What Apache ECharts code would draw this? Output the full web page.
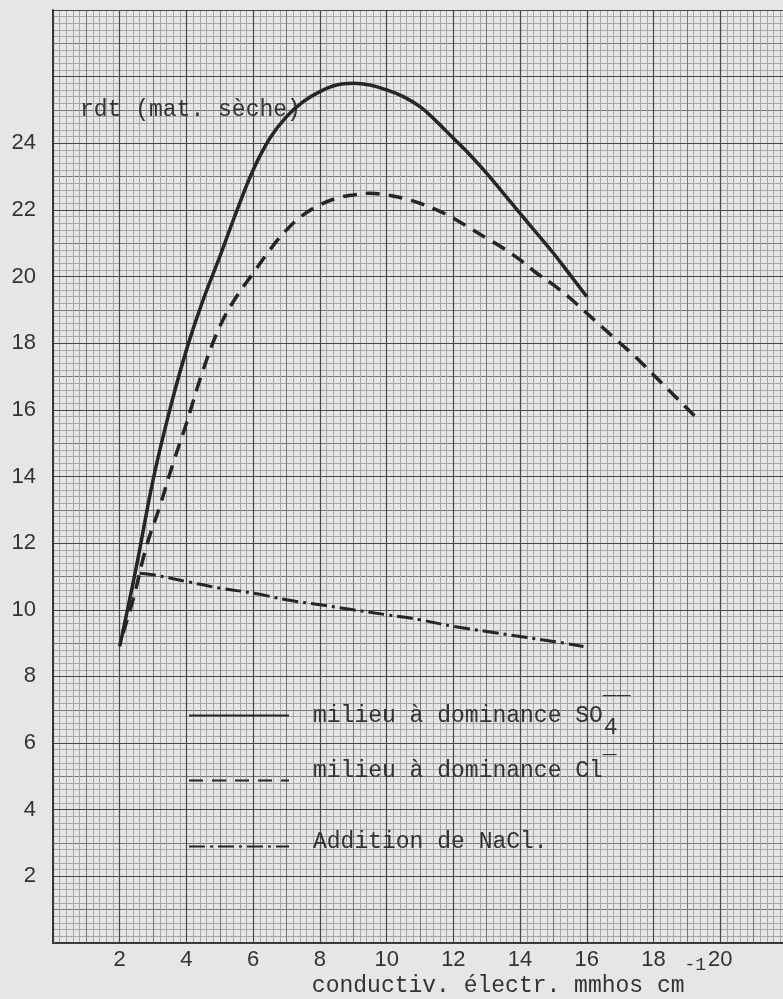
<!DOCTYPE html>
<html>
<head>
<meta charset="utf-8">
<script src="https://cdn.jsdelivr.net/npm/echarts@6/dist/echarts.min.js"></script>
<style>
  html, body { margin: 0; padding: 0; background: #e6e6e6; }
  #chart { width: 783px; height: 999px; }
</style>
</head>
<body>
<div id="chart"></div>
<script>
// ---- data ----
const seriesNames = ['milieu à dominance SO4', 'milieu à dominance Cl', 'Addition de NaCl.'];

const so4X = [2.0, 2.5, 3.0, 3.5, 4.0, 4.5, 5.0, 5.5, 6.0, 6.5, 7.0, 7.5, 8.0, 8.5, 9.0, 9.5, 10.0, 10.5, 11.0, 11.5, 12.0, 12.5, 13.0, 13.5, 14.0, 14.5, 15.0, 15.5, 16.0];
const so4Y = [8.9, 11.3, 13.9, 16.0, 17.8, 19.3, 20.6, 21.95, 23.2, 24.15, 24.8, 25.25, 25.55, 25.75, 25.8, 25.75, 25.6, 25.4, 25.1, 24.65, 24.15, 23.65, 23.1, 22.5, 21.9, 21.3, 20.7, 20.05, 19.4];

const clX = [2.1, 2.4, 2.8, 3.2, 3.6, 4.0, 4.5, 5.0, 5.5, 6.0, 6.5, 7.0, 7.5, 8.0, 8.5, 9.0, 9.5, 10.0, 10.5, 11.0, 11.5, 12.0, 12.5, 13.0, 13.5, 14.0, 14.5, 15.0, 15.5, 16.0, 16.5, 17.0, 17.5, 18.0, 18.5, 19.0, 19.35];
const clY = [9.3, 10.3, 11.9, 13.1, 14.4, 15.6, 17.2, 18.5, 19.4, 20.1, 20.8, 21.4, 21.85, 22.15, 22.35, 22.45, 22.5, 22.45, 22.35, 22.2, 22.0, 21.75, 21.45, 21.15, 20.85, 20.5, 20.1, 19.75, 19.35, 18.9, 18.45, 18.0, 17.55, 17.05, 16.55, 16.05, 15.7];

const naclX = [2.6, 3.0, 4.0, 5.0, 6.0, 7.0, 8.0, 9.0, 10.0, 11.0, 12.0, 13.0, 14.0, 15.0, 15.9];
const naclY = [11.1, 11.05, 10.85, 10.65, 10.5, 10.3, 10.15, 10.0, 9.85, 9.7, 9.5, 9.35, 9.2, 9.05, 8.9];

const xTickLabels = [2, 4, 6, 8, 10, 12, 14, 16, 18, 20];
const yTickLabels = [2, 4, 6, 8, 10, 12, 14, 16, 18, 20, 22, 24];

const xAxisTitle = 'conductiv. électr. mmhos cm';
const xAxisTitleSup = '-1';
const yAxisTitle = 'rdt (mat. sèche)';

// ---- chart ----
const zip = (xs, ys) => xs.map((x, i) => [x, ys[i]]);
const showIf = list => v => list.some(t => Math.abs(t - v) < 1e-6) ? String(v) : '';

const MONO = '"Liberation Mono", "Courier New", monospace';
const SANS = '"Liberation Sans", Arial, sans-serif';
const INK = '#262626';
const TXT = '#333333';

const gridLineDark = '#474747';
const gridLineMid = '#777777';
const gridLineFine = '#a6a6a6';

function mainAxis(extra) {
  return Object.assign({
    type: 'value',
    min: 0,
    interval: 2,
    z: 1,
    nameMoveOverlap: false,
    axisLine: { show: true, onZero: false, lineStyle: { color: '#3a3a3a', width: 2 } },
    axisTick: { show: false },
    splitLine: { show: true, lineStyle: { color: gridLineDark, width: 1.2 } },
    minorTick: { show: false },
    minorSplitLine: { show: false }
  }, extra);
}
function fineAxis(extra) {
  return Object.assign({
    type: 'value',
    min: 0,
    interval: 1,
    z: 0,
    axisLine: { show: false },
    axisTick: { show: false },
    axisLabel: { show: false },
    splitLine: { show: true, lineStyle: { color: gridLineMid, width: 1 } },
    minorTick: { show: false, splitNumber: 5 },
    minorSplitLine: { show: true, lineStyle: { color: gridLineFine, width: 1 } }
  }, extra);
}

function legendBlock(idx, top, text, textPadBottom) {
  return {
    data: [seriesNames[idx]],
    left: 188,
    top: top,
    padding: 0,
    itemWidth: 100,
    itemHeight: 14,
    selectedMode: false,
    itemStyle: { opacity: 0, color: 'rgba(0,0,0,0)', borderWidth: 0 },
    formatter: () => text,
    textStyle: {
      color: TXT,
      fontFamily: MONO,
      fontSize: 23,
      padding: [0, 0, textPadBottom, 19],
      rich: {
        t: { fontFamily: MONO, fontSize: 23, lineHeight: 24, color: TXT },
        bar: { fontFamily: MONO, fontSize: 23, lineHeight: 24, width: 1, padding: [0, 0, 16, 0], color: TXT },
        bar2: { fontFamily: MONO, fontSize: 23, lineHeight: 24, padding: [0, 0, 8, 0], color: TXT },
        sub: { fontFamily: MONO, fontSize: 23, lineHeight: 24, padding: [24, 0, 0, 0], color: TXT }
      }
    }
  };
}

const chart = echarts.init(document.getElementById('chart'), null, { renderer: 'canvas' });

chart.setOption({
  backgroundColor: '#e6e6e6',
  animation: false,
  grid: { left: 53, right: -4, top: 10, bottom: 56, containLabel: false, outerBoundsMode: 'none' },
  xAxis: [
    mainAxis({
      max: 22,
      position: 'bottom',
      axisLabel: { formatter: showIf(xTickLabels), color: TXT, fontFamily: SANS, fontSize: 22, margin: 6 },
      name: '{t|' + xAxisTitle + '}{sup|' + xAxisTitleSup + '}',
      nameLocation: 'middle',
      nameGap: 13,
      nameTextStyle: {
        color: TXT,
        padding: [0, 0, 0, 178],
        rich: {
          t: { fontFamily: MONO, fontSize: 23, lineHeight: 60, color: TXT },
          sup: { fontFamily: MONO, fontSize: 18, lineHeight: 2, verticalAlign: 'top', color: TXT }
        }
      }
    }),
    fineAxis({ max: 22 })
  ],
  yAxis: [
    mainAxis({
      max: 28,
      position: 'left',
      axisLabel: { formatter: showIf(yTickLabels), color: TXT, fontFamily: SANS, fontSize: 22, margin: 17 },
      name: yAxisTitle,
      nameLocation: 'end',
      nameGap: -100,
      nameTextStyle: {
        color: TXT, fontFamily: MONO, fontSize: 23,
        align: 'left', verticalAlign: 'middle', padding: [0, 0, 0, 27]
      }
    }),
    fineAxis({ max: 28 })
  ],
  legend: [
    legendBlock(0, 692, '{t|milieu à dominance SO}{bar|¯¯}{sub|4}', 0),
    legendBlock(1, 755, '{t|milieu à dominance Cl}{bar2|¯}', 20),
    legendBlock(2, 830, '{t|Addition de NaCl.}', 10)
  ],
  series: [
    {
      name: seriesNames[0], type: 'line', xAxisIndex: 0, yAxisIndex: 0,
      data: zip(so4X, so4Y), smooth: 0.4, showSymbol: false, symbol: 'none', z: 5,
      lineStyle: { color: INK, width: 3.5, type: 'solid' }, itemStyle: { color: INK }
    },
    {
      name: seriesNames[1], type: 'line', xAxisIndex: 0, yAxisIndex: 0,
      data: zip(clX, clY), smooth: 0.4, showSymbol: false, symbol: 'none', z: 5,
      lineStyle: { color: INK, width: 3.5, type: [14, 9] }, itemStyle: { color: INK }
    },
    {
      name: seriesNames[2], type: 'line', xAxisIndex: 0, yAxisIndex: 0,
      data: zip(naclX, naclY), smooth: 0.4, showSymbol: false, symbol: 'none', z: 5,
      lineStyle: { color: INK, width: 3, type: [16, 5, 3, 5] }, itemStyle: { color: INK }
    }
  ]
});
</script>
</body>
</html>
